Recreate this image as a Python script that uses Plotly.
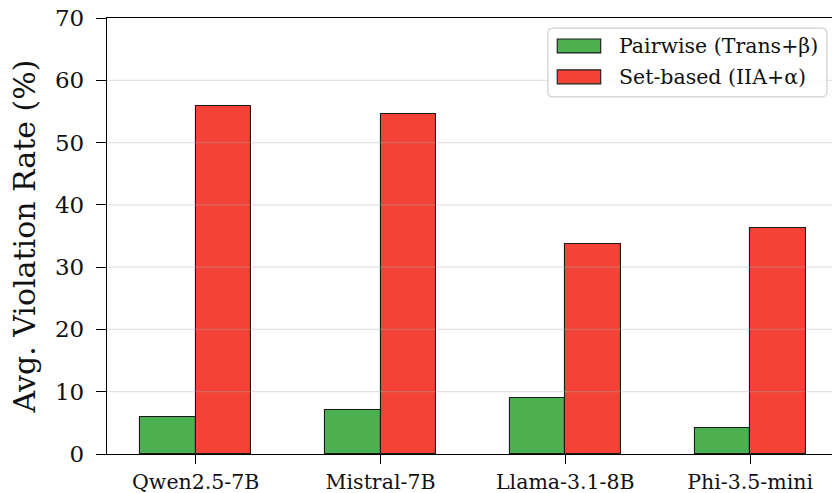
import plotly.graph_objects as go

models = ["Qwen2.5-7B", "Mistral-7B", "Llama-3.1-8B", "Phi-3.5-mini"]
series_names = ["Pairwise (Trans+β)", "Set-based (IIA+α)"]
pairwise = [6.0, 7.0, 9.0, 4.1]
set_based = [55.9, 54.6, 33.75, 36.35]
y_ticks = [0, 10, 20, 30, 40, 50, 60, 70]
colors = ["#4CAF50", "#F44336"]

FONT = "DejaVu Serif"
xpos = list(range(len(models)))
bw = 0.3

fig = go.Figure()
for name, vals, col, off in [(series_names[0], pairwise, colors[0], -bw / 2),
                              (series_names[1], set_based, colors[1], bw / 2)]:
    fig.add_trace(go.Bar(
        x=[p + off for p in xpos], y=vals, width=bw, name=name,
        marker=dict(color=col, line=dict(color="#1a1a1a", width=1.1)),
        showlegend=False,
    ))

# gridlines drawn over bars (semi-transparent)
for v in y_ticks[1:-1]:
    fig.add_shape(type="line", xref="paper", yref="y", x0=0, x1=1, y0=v, y1=v,
                  line=dict(color="rgba(170,170,170,0.33)", width=1.3), layer="above")

# manual legend
bx0, bx1, by0, by1, r = 0.608, 0.993, 0.819, 0.977, 0.008
path = (f"M {bx0+r},{by0} L {bx1-r},{by0} Q {bx1},{by0} {bx1},{by0+r*1.66} "
        f"L {bx1},{by1-r*1.66} Q {bx1},{by1} {bx1-r},{by1} L {bx0+r},{by1} "
        f"Q {bx0},{by1} {bx0},{by1-r*1.66} L {bx0},{by0+r*1.66} Q {bx0},{by0} {bx0+r},{by0} Z")
fig.add_shape(type="path", xref="paper", yref="paper", path=path,
              fillcolor="rgba(255,255,255,0.85)", line=dict(color="#d0d0d0", width=1.2),
              layer="above")
rows = [(0.952, 0.920, 0.936), (0.881, 0.849, 0.865)]
for (y1, y0, yc), name, col in zip(rows, series_names, colors):
    fig.add_shape(type="rect", xref="paper", yref="paper", x0=0.621, x1=0.681, y0=y0, y1=y1,
                  fillcolor=col, line=dict(color="#1a1a1a", width=1.1), layer="above")
    fig.add_annotation(xref="paper", yref="paper", x=0.703, y=yc, text=name, showarrow=False,
                       xanchor="left", yanchor="middle",
                       font=dict(family=FONT, size=20.5, color="#111"))

fig.update_layout(
    width=832, height=493,
    margin=dict(l=107, r=0, t=18, b=38.5),
    plot_bgcolor="white", paper_bgcolor="white",
    bargap=0, barmode="overlay",
    font=dict(family=FONT, color="#111"),
)
fig.update_xaxes(
    range=[-0.48, 3.443], tickvals=xpos, ticktext=models,
    showline=True, linecolor="black", linewidth=1.3, mirror=True,
    ticks="outside", ticklen=9, tickwidth=1.3, tickcolor="black",
    showgrid=False, zeroline=False,
    tickfont=dict(family=FONT, size=20.5, color="#111"),
)
fig.update_yaxes(
    range=[0, 70], tickvals=y_ticks,
    showline=True, linecolor="black", linewidth=1.3,
    ticks="outside", ticklen=10, tickwidth=1.3, tickcolor="black",
    showgrid=False, zeroline=False,
    ticklabeloverflow="allow", ticklabelstandoff=7,
    tickfont=dict(family=FONT, size=23, color="#111"),
    title=dict(text="Avg. Violation Rate (%)", font=dict(family=FONT, size=30, color="#111"),
               standoff=10),
    automargin=False,
)
fig.write_html("out.html", config={"displayModeBar": False},
               post_script="document.body.style.margin='0';document.body.style.overflow='hidden';")
